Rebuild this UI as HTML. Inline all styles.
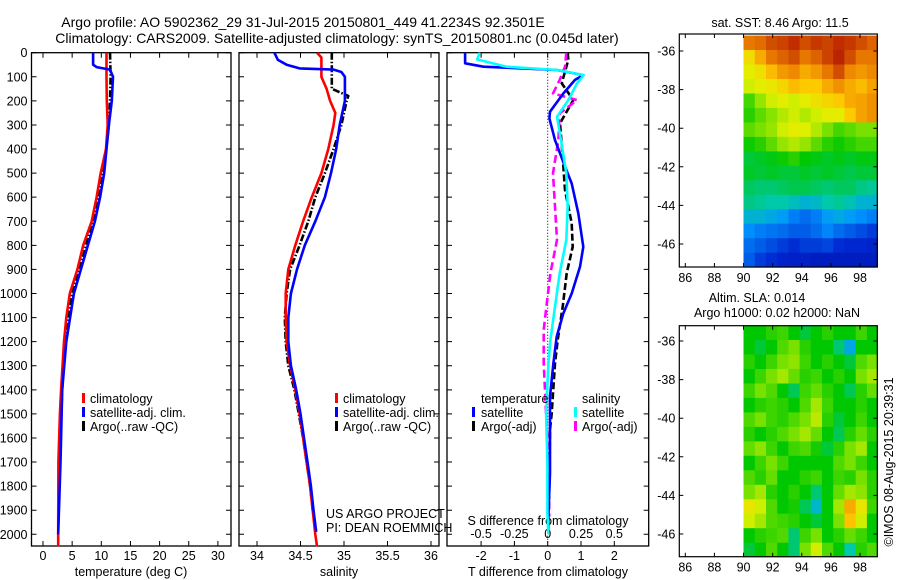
<!DOCTYPE html>
<html><head><meta charset="utf-8">
<style>
body{margin:0;background:#fff;}
svg{display:block;font-family:"Liberation Sans",sans-serif;}
text{fill:#000;}
</style></head>
<body>
<svg id="fig" width="900" height="580" viewBox="0 0 900 580">
<text x="303" y="27" font-size="14" text-anchor="middle">Argo profile: AO 5902362_29 31-Jul-2015 20150801_449 41.2234S 92.3501E</text>
<text x="337" y="43" font-size="14" text-anchor="middle">Climatology: CARS2009. Satellite-adjusted climatology: synTS_20150801.nc (0.045d later)</text>
</svg>
<script>
// ---------- data ----------
const depthTicks = [0,100,200,300,400,500,600,700,800,900,1000,1100,1200,1300,1400,1500,1600,1700,1800,1900,2000];
const tempTicks = [0,5,10,15,20,25,30];
const salTicks = [34,34.5,35,35.5,36];
const dTTicks = [-2,-1,0,1,2];
const dSTicks = [-0.5,-0.25,0,0.25,0.5];
const dSTickLabels = ['-0.5','-0.25','0','0.25','0.5'];
const lonTicks = [86,88,90,92,94,96,98];
const latTicks = [-36,-38,-40,-42,-44,-46];

const tClimDepth = [0,100,200,300,400,500,600,700,800,900,1000,1100,1200,1400,1500,1700,2000,2050];
const tClim = [10.9,10.9,10.95,11.1,10.8,9.9,9.2,8.35,6.9,5.9,4.6,4.0,3.6,3.1,2.9,2.65,2.6,2.6];
const tSatDepth = [0,50,60,70,100,200,300,400,500,600,700,800,900,1000,1200,1400,1700,2000];
const tSat = [8.6,8.6,9.2,11.5,12.0,11.8,11.3,10.9,10.5,9.8,8.9,7.7,6.5,5.3,4.0,3.3,3.0,2.6];
const tArgoDepth = [0,100,200,300,400,500,600,700,800,900,1000,1200,1400,1600,1900];
const tArgo = [11.5,11.6,11.5,11.3,10.8,10.3,9.6,8.6,7.4,6.3,5.0,3.8,3.3,3.0,2.6];

const sClimDepth = [0,20,100,150,200,250,300,400,500,600,700,800,900,1000,1100,1200,1300,1400,1500,1600,1700,1800,1900,2000,2050];
const sClim = [34.69,34.74,34.74,34.80,34.84,34.90,34.88,34.82,34.74,34.63,34.53,34.44,34.36,34.33,34.33,34.34,34.38,34.44,34.49,34.53,34.57,34.61,34.64,34.67,34.69];
const sSatDepth = [0,30,50,65,70,80,100,200,300,400,500,600,700,800,900,1000,1100,1200,1300,1400,1500,1600,1700,1800,1900,1990];
const sSat = [34.2,34.24,34.34,34.49,34.88,34.97,35.01,35.01,34.95,34.91,34.85,34.78,34.67,34.55,34.46,34.39,34.36,34.36,34.39,34.45,34.50,34.54,34.58,34.62,34.65,34.68];
const sArgoDepth = [0,150,180,200,300,400,500,600,700,800,900,1000,1100,1200,1300,1400,1500,1600,1700,1800,1900];
const sArgo = [34.86,34.86,35.05,35.03,34.97,34.88,34.78,34.67,34.59,34.49,34.38,34.34,34.32,34.33,34.36,34.43,34.48,34.53,34.57,34.61,34.64];

const dTSatDepth = [0,44,58,72,93,113,169,245,273,363,473,543,667,806,889,1000,1082,1179,1290,1428,1566,1746,1926,1981];
const dTSat = [-2.48,-2.48,-1.93,0.27,1.07,0.82,0.47,0.07,0.05,0.22,0.52,0.72,0.92,1.07,0.97,0.72,0.47,0.27,0.17,0.07,0.07,0.07,0.02,0.02];
const dTArgoDepth = [0,30,127,197,293,432,570,709,806,916,1055,1193,1290,1497,1566,1750,1900];
const dTArgo = [0.6,0.62,0.42,0.77,0.37,0.45,0.52,0.72,0.75,0.57,0.45,0.3,0.22,0.12,0.07,0.05,0.04];
const dSSatDepth = [0,28,58,72,93,127,197,266,363,501,640,778,916,1055,1193,1290,1497,1705,1912,2000];
const dSSat = [-0.51,-0.53,-0.31,0.07,0.27,0.22,0.155,0.07,0.1,0.14,0.15,0.14,0.09,0.055,0.02,0.005,-0.012,-0.002,-0.002,0.005];
const dSArgoDepth = [0,58,113,169,197,252,363,501,640,778,916,1055,1151,1290,1497,1705,1926];
const dSArgo = [0.14,0.13,0.09,0.04,0.22,0.09,0.08,0.04,0.055,0.07,0.02,-0.01,-0.03,-0.03,-0.012,0.005,0.012];

const sstLat0 = -35.2, sstLatStep = 0.75;
const sstLon0 = 90, sstLonStep = 0.77;
const sstGrid = [
[12.8,12.9,13.2,13.3,13.5,13.2,13.4,13.3,13.5,13.4,13.2,13.0],
[11.5,12.2,12.8,13.0,13.2,12.8,13.0,13.3,13.6,13.2,12.8,12.8],
[11.2,11.4,12.0,12.4,12.6,12.2,12.4,12.8,13.2,12.6,12.4,12.6],
[11.0,11.2,11.3,11.6,12.0,11.8,11.8,12.2,12.5,12.2,12.0,12.3],
[10.0,10.6,11.0,11.2,11.0,11.2,11.4,11.6,11.8,12.2,12.3,12.5],
[9.8,10.2,10.5,10.8,11.0,10.8,11.0,11.2,11.2,11.8,12.3,12.5],
[10.2,10.4,10.6,11.0,11.2,11.1,10.8,10.4,10.0,10.2,10.4,10.4],
[9.6,9.8,10.2,10.6,10.8,10.6,10.2,9.8,9.6,9.8,10.0,10.0],
[9.2,9.3,9.4,9.6,9.8,9.5,9.4,9.3,9.4,9.3,9.4,9.4],
[9.3,9.2,9.3,9.2,9.2,9.3,9.2,9.3,9.2,9.1,9.2,9.2],
[9.0,8.9,8.9,9.0,9.1,9.1,9.0,8.9,9.0,9.0,8.8,8.7],
[8.8,8.7,8.6,8.6,8.4,8.2,8.3,8.6,8.7,8.5,8.2,8.2],
[8.2,8.2,8.0,7.8,7.4,7.2,7.4,7.8,8.0,7.8,7.6,7.4],
[7.6,7.4,7.3,7.2,7.0,7.0,7.2,7.5,7.2,7.0,6.8,6.6],
[7.2,7.0,6.8,6.6,6.4,6.6,6.6,6.7,6.4,6.3,6.3,6.2],
[7.0,6.6,6.4,6.2,6.1,6.1,6.0,6.0,6.0,6.0,6.0,6.0]];
const slaGrid = [
[0,0,0.02,0.03,0,-0.02,0,0.02,0,0,0.03,0],
[0,-0.02,0,0.04,0.06,0.02,0,0,-0.04,-0.1,0,0],
[0.02,0,0.03,0.06,0.07,0.03,0,0.02,0,-0.02,0.04,0.06],
[0,0.03,0.06,0.08,0.05,0.02,0.03,0,0.02,0,0.06,0.08],
[0.03,0.06,0.04,0,-0.03,0.03,0.05,0.02,0,-0.03,0.02,0.05],
[0,0.02,0.03,0.02,0,0.04,0.08,0.03,0,0,0.02,0],
[0.04,0.06,0.03,0.02,0.04,0.06,0.09,0.02,-0.02,0,0.03,0],
[0.02,0,0.02,0.04,0.06,0.08,0.05,0,-0.03,0.02,0.05,0.02],
[0.05,0.07,0.03,0,0.03,0.04,0.01,-0.02,0.02,0.06,0.08,0],
[0,0.03,0.06,0.03,0,0,0,0,0.04,0.06,0.03,0],
[0.04,0.02,0.05,0,0,0.02,0.03,0,0.03,0.02,0.06,0.02],
[0.06,0.08,0.02,0,0.02,0,-0.04,0,0.05,0.08,0.07,0.02],
[0.12,0.1,0.04,0,0.01,-0.03,-0.08,0,0.08,0.18,0.12,0.03],
[0.1,0.08,0.04,0.03,0.02,0,-0.02,0,0.06,0.16,0.1,0],
[0,0.02,0.03,0.04,-0.04,0.03,0.06,0,0.02,0.05,0.03,0],
[-0.02,0,0.04,0,-0.04,0.06,0.1,0.04,0,-0.06,0.02,0.04]];

// ---------- helpers ----------
const NS='http://www.w3.org/2000/svg';
const svg=document.getElementById('fig');
function el(tag,attrs,parent){const e=document.createElementNS(NS,tag);for(const k in attrs)e.setAttribute(k,attrs[k]);(parent||svg).appendChild(e);return e;}
const TOP=52.7, BOT=546;
const yD=d=>TOP+d*0.2408;
const xT=v=>43+v*5.83;
const xS=v=>257+(v-34)*87;
const xDT=v=>547.7+v*33.3;
const xDS=v=>547.7+v*133.2;

function panel(x0,x1,name){
  const r=el('rect',{x:x0,y:TOP,width:x1-x0,height:BOT-TOP,fill:'none',stroke:'#000','stroke-width':1.3});
  
  
}
function yticks(x0,x1,labels){
  depthTicks.forEach(d=>{
    const y=yD(d);
    const t=el('path',{d:`M${x0} ${y}h5M${x1} ${y}h-5`,stroke:'#000','stroke-width':1});
    
    
    if(labels){
      const l=el('text',{x:x0-4,y:y+4.5,'font-size':12.5,'text-anchor':'end'});
      l.textContent=d;
      
      
    }
  });
}
function xticks(vals,fx,labels,ly){
  vals.forEach((v,i)=>{
    const x=fx(v);
    const t=el('path',{d:`M${x} ${BOT}v-5M${x} ${TOP}v5`,stroke:'#000','stroke-width':1});
    
    
    const l=el('text',{x:x,y:ly,'font-size':12.5,'text-anchor':'middle'});
    l.textContent=labels?labels[i]:v;
    
    
  });
}
function line(depths,vals,fx,color,dash,name){
  const p=depths.map((d,i)=>`${i?'L':'M'}${fx(vals[i]).toFixed(1)} ${yD(d).toFixed(1)}`).join('');
  const a={d:p,fill:'none',stroke:color,'stroke-width':2.6,'stroke-linejoin':'round'};
  if(dash)a['stroke-dasharray']=dash;
  const e=el('path',a);
  
  
}
function txt(x,y,s,name,size,anchor){
  const t=el('text',{x:x,y:y,'font-size':size||12.5,'text-anchor':anchor||'start'});
  t.textContent=s;
  
  
  return t;
}
function legMark(x,y,color,name){
  const m=el('rect',{x:x,y:y-10,width:3,height:10,fill:color});
  
  
}

// ---------- temperature panel ----------
panel(31.5,231,'temperature-plot-frame');
yticks(31.5,231,true);
xticks(tempTicks,xT,null,560);
txt(131,576,'temperature (deg C)','temperature-x-axis-title',12.5,'middle');
line(tArgoDepth,tArgo,xT,'#000','7,2,1.5,2','temperature-argo-line');
line(tClimDepth,tClim,xT,'#f00',null,'temperature-climatology-line');
line(tSatDepth,tSat,xT,'#00f',null,'temperature-satellite-line');
legMark(82,403,'#f00','legend-climatology-marker');txt(90,403,'climatology','legend-climatology');
legMark(82,417,'#00f','legend-satellite-marker');txt(90,417,'satellite-adj. clim.','legend-satellite');
legMark(82,431,'#000','legend-argo-marker');txt(90,431,'Argo(..raw -QC)','legend-argo');

// ---------- salinity panel ----------
panel(239,439,'salinity-plot-frame');
yticks(239,439,false);
xticks(salTicks,xS,null,560);
txt(339,576,'salinity','salinity-x-axis-title',12.5,'middle');
line(sArgoDepth,sArgo,xS,'#000','7,2,1.5,2','salinity-argo-line');
line(sClimDepth,sClim,xS,'#f00',null,'salinity-climatology-line');
line(sSatDepth,sSat,xS,'#00f',null,'salinity-satellite-line');
legMark(335,403,'#f00','legend2-climatology-marker');txt(343,403,'climatology','legend2-climatology');
legMark(335,417,'#00f','legend2-satellite-marker');txt(343,417,'satellite-adj. clim.','legend2-satellite');
legMark(335,431,'#000','legend2-argo-marker');txt(343,431,'Argo(..raw -QC)','legend2-argo');
txt(326,518,'US ARGO PROJECT','project-credit');
txt(326,532,'PI: DEAN ROEMMICH','pi-credit');

// ---------- difference panel ----------
panel(447,648.7,'difference-plot-frame');
yticks(447,648.7,false);
const zl=el('line',{x1:xDT(0),y1:TOP,x2:xDT(0),y2:BOT,stroke:'#000','stroke-width':1,'stroke-dasharray':'1,2'});


xticks(dTTicks,xDT,null,560);
dSTicks.forEach((v,i)=>{
  const l=txt(xDS(v),538,dSTickLabels[i],'s-diff-tick-label',12.5,'middle');
});
txt(548,525,'S difference from climatology','s-diff-axis-title',12.5,'middle');
txt(548,576,'T difference from climatology','t-diff-axis-title',12.5,'middle');
line(dTArgoDepth,dTArgo,xDT,'#000','7,3','t-diff-argo-line');
line(dSArgoDepth,dSArgo,xDS,'#f0f','8,4','s-diff-argo-line');
line(dTSatDepth,dTSat,xDT,'#00f',null,'t-diff-satellite-line');
line(dSSatDepth,dSSat,xDS,'#0ff',null,'s-diff-satellite-line');
txt(481,403,'temperature','legend3-temperature-header');
legMark(472,417,'#00f','legend3-tsat-marker');txt(481,417,'satellite','legend3-tsat');
legMark(472,431,'#000','legend3-targo-marker');txt(481,431,'Argo(-adj)','legend3-targo');
txt(582,403,'salinity','legend3-salinity-header');
legMark(574,417,'#0ff','legend3-ssat-marker');txt(582,417,'satellite','legend3-ssat');
legMark(574,431,'#f0f','legend3-sargo-marker');txt(582,431,'Argo(-adj)','legend3-sargo');

// ---------- maps ----------
const stops=[[0,[0,0,140]],[0.15,[0,40,210]],[0.3,[0,150,255]],[0.4,[0,200,170]],[0.5,[0,200,0]],[0.6,[120,225,0]],[0.68,[225,240,0]],[0.76,[255,200,0]],[0.86,[235,125,0]],[0.95,[190,40,0]],[1,[150,0,0]]];
function cmap(t){t=Math.max(0,Math.min(1,t));for(let i=1;i<stops.length;i++){if(t<=stops[i][0]){const a=stops[i-1],b=stops[i],f=(t-a[0])/(b[0]-a[0]);return 'rgb('+a[1].map((c,k)=>Math.round(c+(b[1][k]-c)*f)).join(',')+')';}}return 'rgb(150,0,0)';}
function map(top,bot,lat36y,grid,norm,name){
  const L=679.3,R=877.3;
  const xL=v=>685.3+(v-86)*14.56;
  const yL=v=>lat36y+(-36-v)*19.3;
  grid.forEach((row,ri)=>row.forEach((v,ci)=>{
    const lon=sstLon0+ci*sstLonStep, lat=sstLat0-ri*sstLatStep;
    const x=xL(lon), y=Math.max(top,yL(lat));
    const x2=Math.min(R,xL(lon+sstLonStep)), y2=Math.min(bot,yL(lat-sstLatStep));
    const c=el('rect',{x:x.toFixed(1),y:y.toFixed(1),width:(x2-x+0.6).toFixed(1),height:(y2-y+0.6).toFixed(1),fill:cmap(norm(v))});
    
    
  }));
  const f=el('rect',{x:L,y:top,width:R-L,height:bot-top,fill:'none',stroke:'#000','stroke-width':1.2});
  
  
  lonTicks.forEach(v=>{
    const x=xL(v);
    const t=el('path',{d:`M${x} ${bot}v-4M${x} ${top}v4`,stroke:'#000','stroke-width':1});
    
    
    txt(x,bot+15,String(v),name+'-lon-label',12.5,'middle');
  });
  latTicks.forEach(v=>{
    const y=yL(v);
    const t=el('path',{d:`M${L} ${y}h4M${R} ${y}h-4`,stroke:'#000','stroke-width':1});
    
    
    txt(L-4,y+4.5,String(v),name+'-lat-label',12.5,'end');
  });
}
map(34,267,51,sstGrid,v=>(v-5)/9,'sst-map');
txt(780,27,'sat. SST: 8.46 Argo: 11.5','sst-map-title',12.5,'middle');
map(325.7,556.7,341,slaGrid,v=>(v+0.3)/0.6,'sla-map');
txt(757,302,'Altim. SLA: 0.014','sla-map-title',12.5,'middle');
txt(777,317,'Argo h1000: 0.02 h2000: NaN','sla-map-subtitle',12.5,'middle');
const st=txt(0,0,'©IMOS 08-Aug-2015 20:39:31','timestamp',12.5,'middle');
st.setAttribute('transform','translate(893,462) rotate(-90)');
</script>
</body></html>
